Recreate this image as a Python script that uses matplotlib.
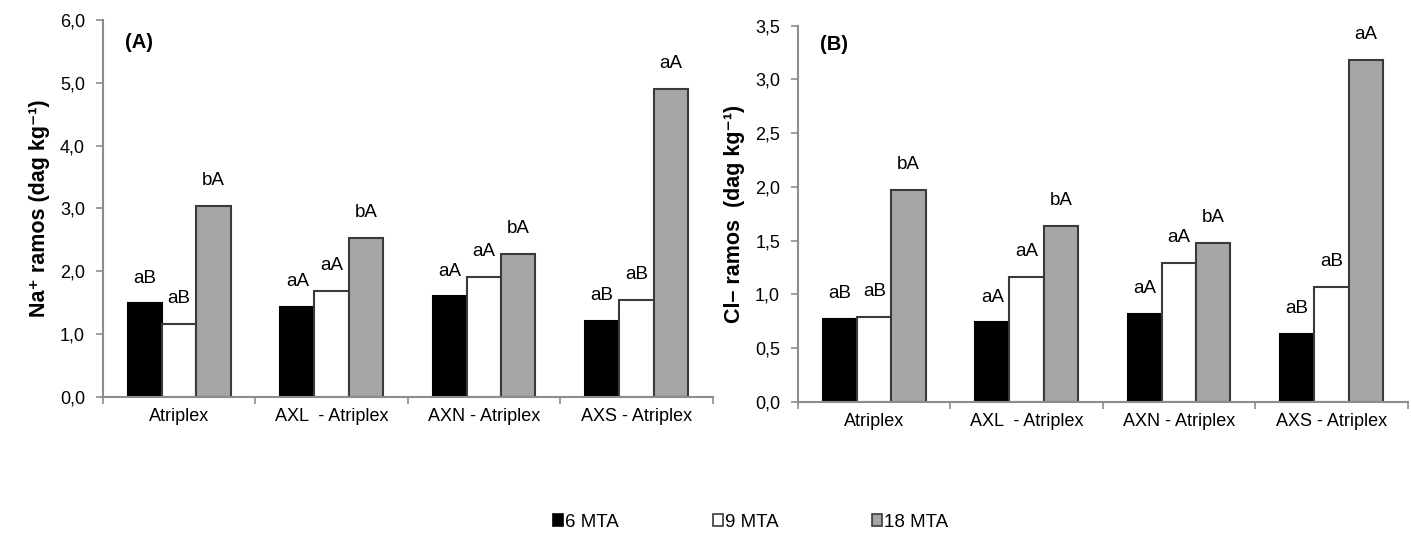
import matplotlib.pyplot as plt
import numpy as np
from matplotlib.patches import Patch
from matplotlib.ticker import FuncFormatter

plt.rcParams["font.family"] = ["Liberation Sans", "DejaVu Sans"]

categories = ["Atriplex", "AXL  - Atriplex", "AXN - Atriplex", "AXS - Atriplex"]
series_names = ["6 MTA", "9 MTA", "18 MTA"]

# panel A: Na+ in branches
na_6 = [1.49, 1.43, 1.60, 1.21]
na_9 = [1.16, 1.69, 1.91, 1.55]
na_18 = [3.04, 2.53, 2.28, 4.90]
na_letters_6 = ["aB", "aA", "aA", "aB"]
na_letters_9 = ["aB", "aA", "aA", "aB"]
na_letters_18 = ["bA", "bA", "bA", "aA"]

# panel B: Cl- in branches
cl_6 = [0.77, 0.74, 0.82, 0.63]
cl_9 = [0.79, 1.16, 1.29, 1.07]
cl_18 = [1.97, 1.64, 1.48, 3.18]
cl_letters_6 = ["aB", "aA", "aA", "aB"]
cl_letters_9 = ["aB", "aA", "aA", "aB"]
cl_letters_18 = ["bA", "bA", "bA", "aA"]

fills = ["#000000", "#ffffff", "#a6a6a6"]
edges = ["#000000", "#3a3a3a", "#3a3a3a"]
spine_color = "#8c8c8c"
bar_width = 0.225


def comma_fmt(value, _pos):
    return f"{value:.1f}".replace(".", ",")


def draw_panel(axis, series, letters, ymax, ystep, ylabel, tag, tag_y):
    x = np.arange(len(categories))
    for i, (values, marks) in enumerate(zip(series, letters)):
        pos = x + (i - 1) * bar_width
        axis.bar(pos, values, width=bar_width, color=fills[i],
                 edgecolor=edges[i], linewidth=1.5, zorder=2)
        for px, value, mark in zip(pos, values, marks):
            axis.annotate(mark, (px, value), xytext=(0, 12), textcoords="offset points",
                          ha="center", va="bottom", fontsize=13.5)

    axis.set_xlim(-0.5, len(categories) - 0.5)
    axis.set_ylim(0, ymax)
    axis.set_yticks(np.arange(0, ymax + ystep / 2, ystep))
    axis.yaxis.set_major_formatter(FuncFormatter(comma_fmt))
    axis.set_xticks(x)
    axis.set_xticklabels(categories)
    axis.set_xticks(np.arange(-0.5, len(categories)), minor=True)
    axis.tick_params(axis="x", which="major", length=0, pad=8, labelsize=13)
    axis.tick_params(axis="x", which="minor", length=5, width=1.2, color=spine_color)
    axis.tick_params(axis="y", length=5, width=1.2, color=spine_color, pad=8, labelsize=13)

    for side in ("top", "right"):
        axis.spines[side].set_visible(False)
    for side in ("left", "bottom"):
        axis.spines[side].set_color(spine_color)
        axis.spines[side].set_linewidth(1.5)

    axis.set_ylabel(ylabel, fontsize=15.5, fontweight="bold", labelpad=7)
    axis.text(0.036, tag_y, tag, transform=axis.transAxes, fontsize=14.5,
              fontweight="bold", ha="left", va="center")


figure = plt.figure(figsize=(14.11, 5.35), dpi=100)
axis_a = figure.add_axes([0.073, 0.258, 0.432, 0.705])
axis_b = figure.add_axes([0.5656, 0.249, 0.432, 0.703])

draw_panel(axis_a, [na_6, na_9, na_18], [na_letters_6, na_letters_9, na_letters_18],
           6.0, 1.0, "Na⁺ ramos (dag kg⁻¹)", "(A)", 0.939)
draw_panel(axis_b, [cl_6, cl_9, cl_18], [cl_letters_6, cl_letters_9, cl_letters_18],
           3.5, 0.5, "Cl– ramos  (dag kg⁻¹)", "(B)", 0.949)

handles = [Patch(facecolor=fills[i], edgecolor=edges[i], linewidth=1.2)
           for i in range(len(series_names))]
figure.legend(handles, series_names, loc="center", bbox_to_anchor=(0.532, 0.024),
              ncol=3, frameon=False, fontsize=13.5, handlelength=0.55, handleheight=0.55,
              handletextpad=0.1, columnspacing=5.0)

figure.savefig("out.png", dpi=100)
